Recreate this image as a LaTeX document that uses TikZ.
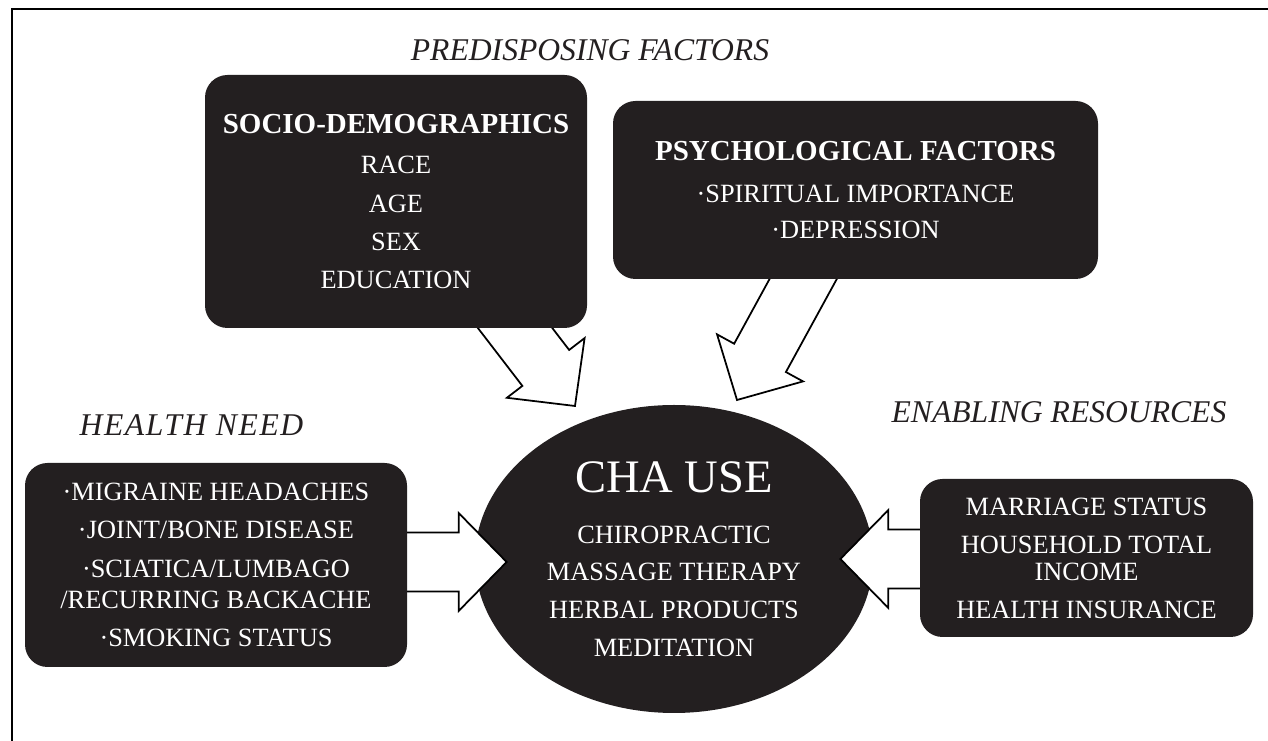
\documentclass[tikz,border=0pt]{standalone}
\usepackage{fontspec}
\setmainfont{Liberation Serif}
\usetikzlibrary{shapes.geometric,calc}
\definecolor{boxfill}{HTML}{231F20}
\pgfdeclarelayer{back}
\pgfdeclarelayer{mid}
\pgfsetlayers{back,mid,main}

% hollow block arrow from #1 to #2
\newcommand{\fatarrow}[2]{%
  \coordinate (head) at ($(#2)!0.96cm!(#1)$);
  \draw[fat] ($(#1)!0.59cm!90:(#2)$) -- ($(head)!0.59cm!90:(#2)$)
    -- ($(head)!0.98cm!90:(#2)$) -- (#2)
    -- ($(head)!0.98cm!-90:(#2)$) -- ($(head)!0.59cm!-90:(#2)$)
    -- ($(#1)!0.59cm!-90:(#2)$) -- cycle;}

\begin{document}
\begin{tikzpicture}
  [darkbox/.style={rectangle, fill=boxfill, text=white, rounded corners=0.45cm,
    align=center, inner sep=0pt, font=\fontsize{15}{22}\selectfont},
  ovalbox/.style={ellipse, fill=boxfill, text=white, align=center, inner sep=0pt,
    font=\fontsize{15}{21.5}\selectfont},
  header/.style={anchor=base, text=boxfill, font=\itshape\fontsize{18}{22}\selectfont},
  fat/.style={draw=black, fill=white, line width=1pt},
  frameline/.style={draw=black, line width=1.1pt}]
  \useasboundingbox (0,0) rectangle (25.36,-14.82);
  \draw[frameline] (0.24,-14.82) -- (0.24,-0.18) -- (25.36,-0.18);

  % group titles
  \node[header] (predis) at (11.80,-1.21) {PREDISPOSING FACTORS};
  \node[header] (need) at (3.83,-8.72) {\addfontfeatures{LetterSpace=5}HEALTH NEED};
  \node[header] (enab) at (21.18,-8.46) {ENABLING RESOURCES};

  % boxes
  \node[darkbox, minimum width=7.64cm, minimum height=5.06cm, font=\fontsize{15}{21.8}\selectfont] (socio) at (7.92,-4.03)
    {{\bfseries\fontsize{16.5}{20}\selectfont SOCIO-DEMOGRAPHICS}\\[1.4pt]
     RACE\\ AGE\\ SEX\\ EDUCATION};
  \node[darkbox, minimum width=9.7cm, minimum height=3.56cm, font=\fontsize{15}{20.4}\selectfont] (psych) at (17.11,-3.80)
    {{\bfseries\fontsize{16.5}{20}\selectfont PSYCHOLOGICAL FACTORS}\\[3.4pt]
     ·SPIRITUAL IMPORTANCE\\ ·DEPRESSION};
  \node[darkbox, minimum width=7.64cm, minimum height=4.08cm] (health) at (4.32,-11.30)
    {·MIGRAINE HEADACHES\\ ·JOINT/BONE DISEASE\\ ·SCIATICA/LUMBAGO\\[-4.5pt]
     /RECURRING BACKACHE\\ ·SMOKING STATUS};
  \node[darkbox, minimum width=6.66cm, minimum height=3.16cm] (enabling) at (21.73,-11.16)
    {MARRIAGE STATUS\\ HOUSEHOLD TOTAL\\[-6.8pt] INCOME\\[-0.5pt] HEALTH INSURANCE};
  \begin{pgfonlayer}{back}
  \node[ovalbox, minimum width=7.96cm, minimum height=6.16cm] (cha) at (13.48,-11.18)
    {{\fontsize{26.5}{30}\selectfont CHA USE}\\[7.4pt]
     CHIROPRACTIC\\ MASSAGE THERAPY\\ HERBAL PRODUCTS\\ MEDITATION};
  \end{pgfonlayer}

  % block arrows, tails hidden under the boxes
  \coordinate (socedge) at ([xshift=-1.44cm]socio.south east);
  \coordinate (soctip) at ($(cha)+(-1.98,3.06)$);
  \coordinate (socstart) at ($(socedge)!-1cm!(soctip)$);
  \coordinate (psyedge) at ([xshift=-1.05cm]psych.south);
  \coordinate (psytip) at ($(cha)+(1.26,3.18)$);
  \coordinate (psystart) at ($(psyedge)!-1cm!(psytip)$);
  \coordinate (needtip) at ([xshift=0.64cm,yshift=-0.06cm]cha.west);
  \coordinate (needstart) at ([xshift=-0.5cm]health.east |- needtip);
  \coordinate (enabtip) at ([xshift=-0.66cm]cha.east);
  \coordinate (enabstart) at ([xshift=0.5cm]enabling.west |- enabtip);
  \begin{pgfonlayer}{mid}
  \fatarrow{socstart}{soctip}
  \fatarrow{psystart}{psytip}
  \fatarrow{needstart}{needtip}
  \fatarrow{enabstart}{enabtip}
  \end{pgfonlayer}
\end{tikzpicture}
\end{document}
